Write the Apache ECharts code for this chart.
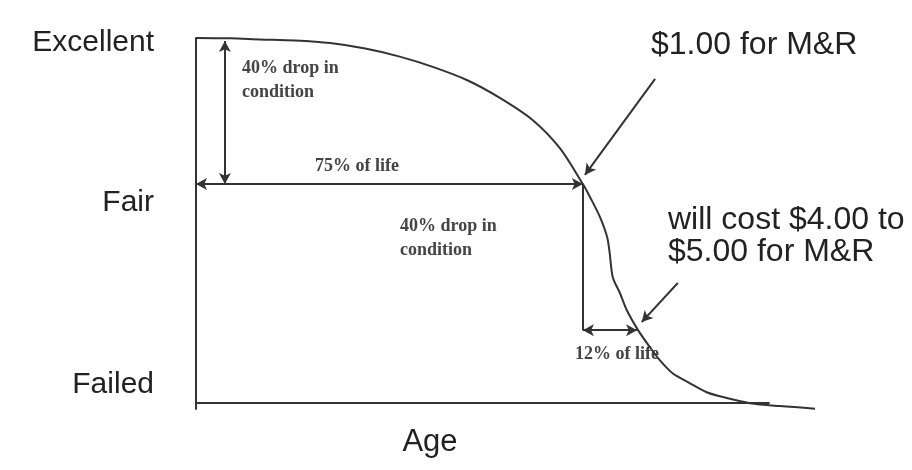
<!DOCTYPE html>
<html>
<head>
<meta charset="utf-8">
<script src="https://cdn.jsdelivr.net/npm/echarts@6/dist/echarts.min.js"></script>
<style>
  html, body { margin: 0; padding: 0; background: #ffffff; }
  #chart { width: 912px; height: 470px; }
</style>
</head>
<body>
<div id="chart"></div>
<script>
// deterioration curve (age in % of life, condition 0..100)
const ageValues = [0, 6.6, 12.4, 19.2, 26, 32.8, 39.5, 45.9, 52.5, 58.9, 65.3, 70.5, 75, 76.4, 78.3, 79.7, 80.2, 80.8, 82.2, 83.5, 85.7, 88, 89.9, 92.4, 95.7, 99, 102.9, 107.4, 113.2, 120];
const conditionValues = [100, 99.9, 99.6, 99.3, 98.6, 97.1, 94.9, 92.1, 88.5, 83.6, 77.5, 69.9, 60, 56.4, 51, 45.5, 41.1, 34.5, 30.1, 25.5, 20, 15.3, 11.8, 8.2, 5.5, 3, 1.4, 0, -0.8, -1.5];

// y tick labels
const yTickValues = [98.6, 54.8, 5.1];
const yTickLabels = ['Excellent', 'Fair', 'Failed'];

// x axis baseline (ends before the curve does)
const ageAxisLine = [[0, 0], [111.2, 0]];

// annotation lines [from, to]
const firstDrop = [[5.6, 99.2], [5.6, 60]];
const firstLife = [[0, 60], [75, 60]];
const secondDrop = [[75, 60], [75, 20]];
const secondLife = [[75, 20], [85.5, 20]];
const cheapCallout = [[89, 88.8], [75.4, 62.5]];
const costlyCallout = [[93.4, 32.9], [86.4, 22.2]];

// annotation texts
const noteFirstDrop = '40% drop in\ncondition';
const noteFirstLife = '75% of life';
const noteSecondDrop = '40% drop in\ncondition';
const noteSecondLife = '12% of life';
const noteCheap = '$1.00 for M&R';
const noteCostly = 'will cost $4.00 to\n$5.00 for M&R';
const xAxisTitle = 'Age';

const chart = echarts.init(document.getElementById('chart'));

const lineColor = '#333333';
const serifText = 'bold 18px "Liberation Serif", "DejaVu Serif", serif';
const sansText = '32px "Liberation Sans", Arial, sans-serif';

function seg(pts, startSym, endSym) {
  return [
    { coord: pts[0], symbol: startSym },
    { coord: pts[1], symbol: endSym }
  ];
}

const option = {
  backgroundColor: '#ffffff',
  animation: false,
  grid: { left: 196, right: 97, top: 38, bottom: 61 },
  xAxis: {
    type: 'value',
    min: 0,
    max: 120,
    axisLine: { show: false },
    axisTick: { show: false },
    axisLabel: { show: false },
    splitLine: { show: false }
  },
  yAxis: {
    type: 'value',
    min: -1.6,
    max: 100,
    axisLine: { show: true, onZero: false, lineStyle: { color: lineColor, width: 2 } },
    axisTick: { show: false },
    splitLine: { show: false },
    axisLabel: {
      customValues: yTickValues,
      formatter: function (v) {
        const i = yTickValues.indexOf(v);
        return i >= 0 ? yTickLabels[i] : '';
      },
      margin: 42,
      color: '#222222',
      fontSize: 30,
      fontFamily: '"Liberation Sans", Arial, sans-serif'
    }
  },
  series: [
    {
      type: 'line',
      data: ageValues.map((a, i) => [a, conditionValues[i]]),
      smooth: 0.3,
      showSymbol: false,
      clip: false,
      silent: true,
      lineStyle: { color: lineColor, width: 2 },
      markLine: {
        silent: true,
        symbolSize: [9, 11],
        label: { show: false },
        lineStyle: { color: lineColor, width: 2, type: 'solid' },
        data: [
          seg(ageAxisLine, 'none', 'none'),
          seg(firstDrop, 'arrow', 'arrow'),
          seg(firstLife, 'arrow', 'arrow'),
          seg(secondDrop, 'none', 'none'),
          seg(secondLife, 'arrow', 'arrow'),
          seg(cheapCallout, 'none', 'arrow'),
          seg(costlyCallout, 'none', 'arrow')
        ]
      }
    }
  ],
  graphic: [
    { type: 'text', x: 242, y: 56, silent: true,
      style: { text: noteFirstDrop, font: serifText, fill: '#444444', lineHeight: 24 } },
    { type: 'text', x: 315, y: 157, silent: true,
      style: { text: noteFirstLife, font: serifText, fill: '#444444' } },
    { type: 'text', x: 400, y: 214, silent: true,
      style: { text: noteSecondDrop, font: serifText, fill: '#444444', lineHeight: 24 } },
    { type: 'text', x: 575, y: 345, silent: true,
      style: { text: noteSecondLife, font: serifText, fill: '#444444' } },
    { type: 'text', x: 651, y: 45, silent: true,
      style: { text: noteCheap, font: sansText, fill: '#222222', verticalAlign: 'middle' } },
    { type: 'text', x: 668, y: 204, silent: true,
      style: { text: noteCostly, font: sansText, fill: '#222222', lineHeight: 32, verticalAlign: 'top' } },
    { type: 'text', x: 430, y: 442, silent: true,
      style: { text: xAxisTitle, font: '31px "Liberation Sans", Arial, sans-serif', fill: '#222222', align: 'center', verticalAlign: 'middle' } }
  ]
};

chart.setOption(option);
</script>
</body>
</html>
